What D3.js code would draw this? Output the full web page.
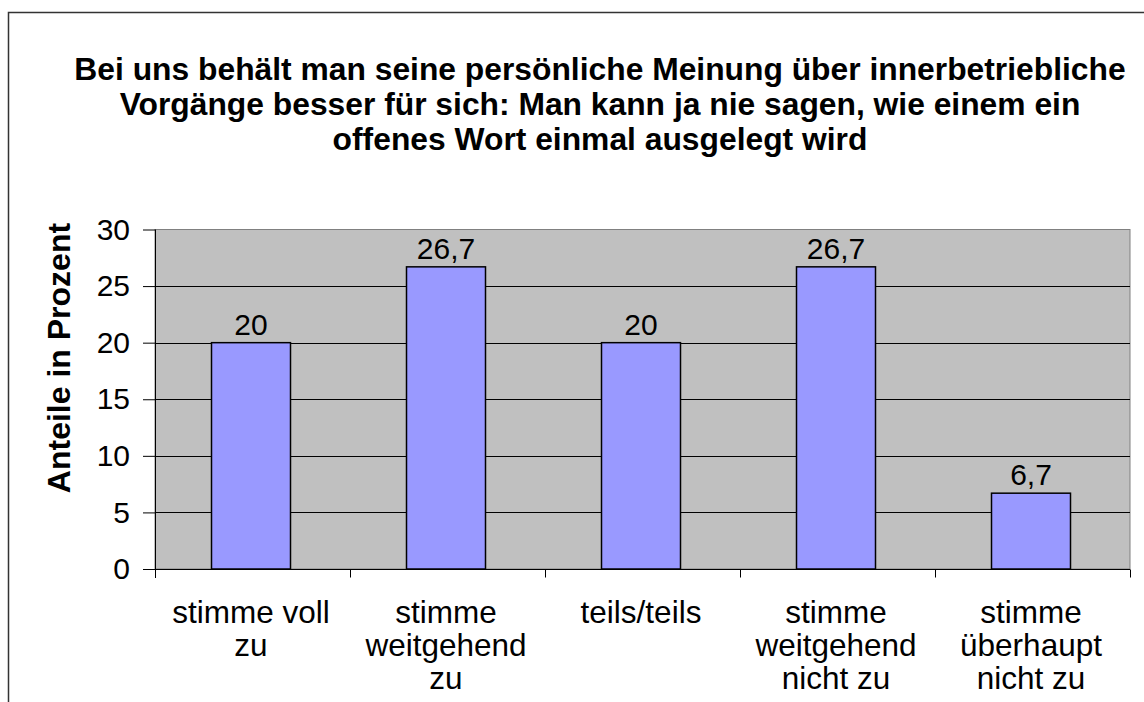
<!DOCTYPE html>
<html>
<head>
<meta charset="utf-8">
<script src="https://cdn.jsdelivr.net/npm/d3@7"></script>
<style>
  body { margin: 0; background: #fff; }
  svg { display: block; font-family: "Liberation Sans", Arial, sans-serif; }
</style>
</head>
<body>
<div id="chart"></div>
<script>
'use strict';

var titleLines = [
	'Bei uns behält man seine persönliche Meinung über innerbetriebliche',
	'Vorgänge besser für sich: Man kann ja nie sagen, wie einem ein',
	'offenes Wort einmal ausgelegt wird'
];
var categories = [
	['stimme voll', 'zu'],
	['stimme', 'weitgehend', 'zu'],
	['teils/teils'],
	['stimme', 'weitgehend', 'nicht zu'],
	['stimme', 'überhaupt', 'nicht zu']
];
var values = [20, 26.7, 20, 26.7, 6.7];
var valueLabels = ['20', '26,7', '20', '26,7', '6,7'];
var yTicks = [0, 5, 10, 15, 20, 25, 30];
var yLabel = 'Anteile in Prozent';

var width = 1144, height = 702;
var plot = {left: 155, right: 1130, top: 229.5, bottom: 569};

var svg = d3.select('#chart').append('svg')
	.attr('width', width)
	.attr('height', height);

// outer frame (right and bottom fall outside the picture)
svg.append('path')
	.attr('d', 'M8.5,' + height + 'V12.5H' + width)
	.attr('fill', 'none')
	.attr('stroke', '#333')
	.attr('stroke-width', 1.5);

// title
svg.append('text')
	.attr('text-anchor', 'middle')
	.attr('font-weight', 'bold')
	.attr('font-size', 31.8)
	.selectAll('tspan')
	.data(titleLines)
	.enter().append('tspan')
		.attr('x', 600)
		.attr('y', function(d, i){ return 80 + i*35; })
		.text(function(d){ return d; });

var x = d3.scaleBand()
	.domain(d3.range(categories.length))
	.range([plot.left, plot.right]);

var y = d3.scaleLinear()
	.domain([0, 30])
	.range([plot.bottom, plot.top]);

var barWidth = 79;

// plot background
svg.append('rect')
	.attr('x', plot.left)
	.attr('y', plot.top)
	.attr('width', plot.right - plot.left)
	.attr('height', plot.bottom - plot.top)
	.attr('fill', '#c0c0c0')
	.attr('stroke', '#808080')
	.attr('stroke-width', 1);

// grid lines
svg.append('g')
	.selectAll('line')
	.data(yTicks.filter(function(t){ return t > 0 && t < 30; }))
	.enter().append('line')
		.attr('x1', plot.left)
		.attr('x2', plot.right)
		.attr('y1', function(d){ return Math.round(y(d)) + 0.5; })
		.attr('y2', function(d){ return Math.round(y(d)) + 0.5; })
		.attr('stroke', '#000')
		.attr('stroke-width', 1);

// bars
svg.append('g')
	.selectAll('rect')
	.data(values)
	.enter().append('rect')
		.attr('x', function(d, i){ return x(i) + x.bandwidth()/2 - barWidth/2 - 1.5; })
		.attr('y', function(d){ return y(d); })
		.attr('width', barWidth)
		.attr('height', function(d){ return y(0) - y(d); })
		.attr('fill', '#9999ff')
		.attr('stroke', '#000')
		.attr('stroke-width', 1.5);

// value labels
svg.append('g')
	.selectAll('text')
	.data(values)
	.enter().append('text')
		.attr('x', function(d, i){ return x(i) + x.bandwidth()/2 - 1.5; })
		.attr('y', function(d){ return y(d) - 8; })
		.attr('text-anchor', 'middle')
		.attr('font-size', 30)
		.text(function(d, i){ return valueLabels[i]; });

// y axis
var yAxis = svg.append('g')
	.attr('transform', 'translate(' + plot.left + ',0)')
	.call(d3.axisLeft(y).tickValues(yTicks).tickSize(12).tickPadding(13).tickFormat(d3.format('d')));
yAxis.select('.domain').attr('d', 'M0.5,' + plot.top + 'V' + (plot.bottom + 9));
yAxis.selectAll('text').attr('font-size', 30).attr('font-family', null).attr('fill', '#000');
yAxis.selectAll('line, path').attr('stroke', '#000');

// x axis
var xAxisG = svg.append('g')
	.attr('transform', 'translate(0,' + (plot.bottom + 0.5) + ')');
xAxisG.append('line')
	.attr('x1', plot.left)
	.attr('x2', plot.right)
	.attr('stroke', '#000');
xAxisG.selectAll('line.tick')
	.data(d3.range(categories.length + 1))
	.enter().append('line')
		.attr('class', 'tick')
		.attr('x1', function(d){ return Math.round(plot.left + d*x.step()) + 0.5; })
		.attr('x2', function(d){ return Math.round(plot.left + d*x.step()) + 0.5; })
		.attr('y1', 0)
		.attr('y2', 8)
		.attr('stroke', '#000');

var xLabels = svg.append('g')
	.attr('font-size', 31.5)
	.attr('text-anchor', 'middle')
	.selectAll('text')
	.data(categories)
	.enter().append('text');
xLabels.selectAll('tspan')
	.data(function(d, i){ return d.map(function(s){ return {s: s, i: i}; }); })
	.enter().append('tspan')
		.attr('x', function(d){ return x(d.i) + x.bandwidth()/2 - 1.5; })
		.attr('y', function(d, j){ return 623 + j*33; })
		.text(function(d){ return d.s; });

// y axis title
svg.append('text')
	.attr('transform', 'translate(70,358) rotate(-90)')
	.attr('text-anchor', 'middle')
	.attr('font-weight', 'bold')
	.attr('font-size', 32)
	.text(yLabel);
</script>
</body>
</html>
